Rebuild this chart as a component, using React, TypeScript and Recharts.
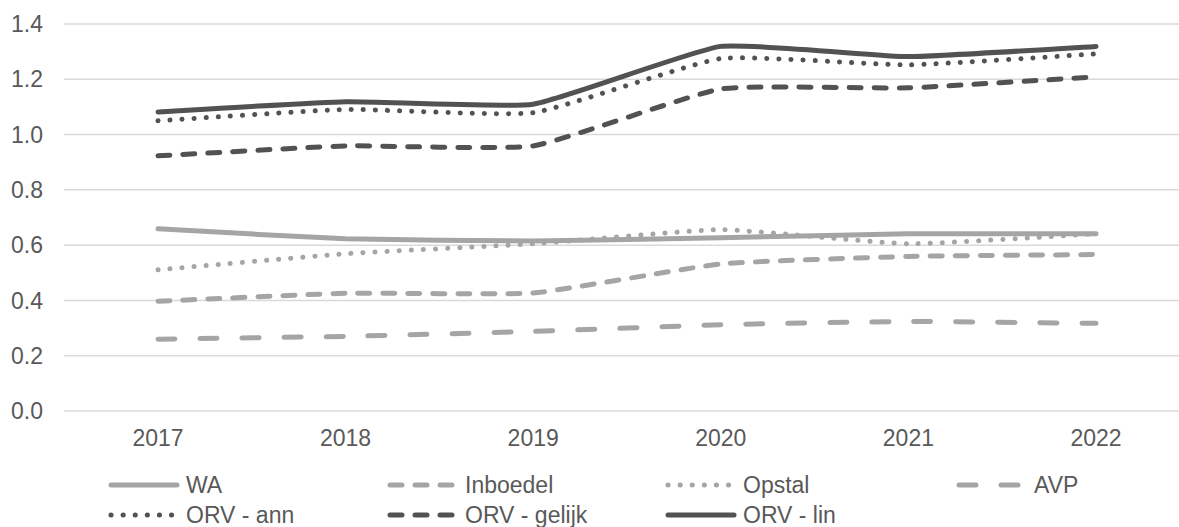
import React from 'react';
import { LineChart, Line, XAxis, YAxis, CartesianGrid, Legend } from 'recharts';

const years = ['2017', '2018', '2019', '2020', '2021', '2022'];
const wa = [0.659, 0.623, 0.615, 0.627, 0.641, 0.641];
const inboedel = [0.397, 0.426, 0.427, 0.532, 0.559, 0.566];
const opstal = [0.511, 0.569, 0.605, 0.656, 0.605, 0.641];
const avp = [0.26, 0.27, 0.288, 0.312, 0.324, 0.317];
const orvAnn = [1.05, 1.091, 1.079, 1.275, 1.252, 1.292];
const orvGelijk = [0.923, 0.959, 0.959, 1.165, 1.169, 1.209];
const orvLin = [1.082, 1.119, 1.11, 1.319, 1.282, 1.319];
const yTicks = [0, 0.2, 0.4, 0.6, 0.8, 1.0, 1.2, 1.4];

const LIGHT = '#a5a5a5';
const DARK = '#525252';
const TEXT = '#595959';
const DOT = '0.1 12';
const DASH = '12 13';
const LONGDASH = '17 25';

const series = [
  { key: 'wa', name: 'WA', color: LIGHT, dash: undefined as string | undefined, values: wa },
  { key: 'inboedel', name: 'Inboedel', color: LIGHT, dash: DASH, values: inboedel },
  { key: 'opstal', name: 'Opstal', color: LIGHT, dash: DOT, values: opstal },
  { key: 'avp', name: 'AVP', color: LIGHT, dash: LONGDASH, values: avp },
  { key: 'orvAnn', name: 'ORV - ann', color: DARK, dash: DOT, values: orvAnn },
  { key: 'orvGelijk', name: 'ORV - gelijk', color: DARK, dash: DASH, values: orvGelijk },
  { key: 'orvLin', name: 'ORV - lin', color: DARK, dash: undefined as string | undefined, values: orvLin },
];

const data = years.map((y, i) => {
  const row: Record<string, number | string> = { year: y };
  series.forEach((s) => {
    row[s.key] = s.values[i];
  });
  return row;
});

// Lightly smoothed curve (softened corners, like Excel's smoothed line)
const SMOOTH_DIV = 14;
function smoothCurve(context: any) {
  let pts: number[][] = [];
  return {
    areaStart() {},
    areaEnd() {},
    lineStart() {
      pts = [];
    },
    point(x: number, y: number) {
      pts.push([+x, +y]);
    },
    lineEnd() {
      const n = pts.length;
      if (n === 0) return;
      context.moveTo(pts[0][0], pts[0][1]);
      if (n === 1) return;
      for (let i = 0; i < n - 1; i++) {
        const p0 = pts[i - 1] || pts[i];
        const p1 = pts[i];
        const p2 = pts[i + 1];
        const p3 = pts[i + 2] || pts[i + 1];
        const c1x = p1[0] + (p2[0] - p0[0]) / SMOOTH_DIV;
        const c1y = p1[1] + (p2[1] - p0[1]) / SMOOTH_DIV;
        const c2x = p2[0] - (p3[0] - p1[0]) / SMOOTH_DIV;
        const c2y = p2[1] - (p3[1] - p1[1]) / SMOOTH_DIV;
        context.bezierCurveTo(c1x, c1y, c2x, c2y, p2[0], p2[1]);
      }
    },
  };
}

const FONT = '"Liberation Sans", Arial, sans-serif';
const colX = [108, 387, 665, 956];
const rowY = [17, 47];

const LegendContent = () => (
  <div style={{ position: 'relative', width: 1200, height: 60, fontFamily: FONT }}>
    {series.map((s, i) => {
      const col = i < 4 ? i : i - 4;
      const row = i < 4 ? 0 : 1;
      return (
        <div
          key={s.key}
          style={{
            position: 'absolute',
            left: colX[col],
            top: rowY[row] - 15,
            height: 30,
            display: 'flex',
            alignItems: 'center',
            whiteSpace: 'nowrap',
          }}
        >
          <svg width={72} height={10} style={{ display: 'block' }}>
            <line
              x1={3}
              y1={5}
              x2={69}
              y2={5}
              stroke={s.color}
              strokeWidth={5}
              strokeLinecap="round"
              strokeDasharray={s.dash}
            />
          </svg>
          <span style={{ marginLeft: 6, fontSize: 23, color: TEXT, lineHeight: '30px' }}>{s.name}</span>
        </div>
      );
    })}
  </div>
);

export default function App() {
  return (
    <div
      style={{
        position: 'fixed',
        left: 0,
        top: 0,
        width: 1179,
        height: 527,
        overflow: 'hidden',
        background: '#ffffff',
      }}
    >
      <LineChart
        width={1200}
        height={527}
        data={data}
        margin={{ top: 24, right: 10, left: 0, bottom: 0 }}
        style={{ fontFamily: FONT }}
      >
        <CartesianGrid vertical={false} stroke="#d9d9d9" strokeWidth={1.5} />
        <XAxis
          dataKey="year"
          height={116}
          axisLine={false}
          tickLine={false}
          tickSize={0}
          tickMargin={19}
          padding={{ left: 94, right: 94 }}
          tick={{ fill: TEXT, fontSize: 23, fontFamily: FONT }}
          interval={0}
        />
        <YAxis
          width={64}
          domain={[0, 1.4]}
          ticks={yTicks}
          axisLine={false}
          tickLine={false}
          tickSize={0}
          tickMargin={21}
          tickFormatter={(v: number) => v.toFixed(1)}
          tick={{ fill: TEXT, fontSize: 23, fontFamily: FONT }}
          interval={0}
        />
        <Legend
          layout="horizontal"
          verticalAlign="middle"
          align="center"
          wrapperStyle={{ top: 468, left: 0, width: 1200, height: 60 }}
          content={<LegendContent />}
        />
        {series.map((s) => (
          <Line
            key={s.key}
            type={smoothCurve as any}
            dataKey={s.key}
            name={s.name}
            stroke={s.color}
            strokeWidth={5}
            strokeLinecap="round"
            strokeLinejoin="round"
            strokeDasharray={s.dash}
            dot={false}
            activeDot={false}
            isAnimationActive={false}
          />
        ))}
      </LineChart>
    </div>
  );
}
